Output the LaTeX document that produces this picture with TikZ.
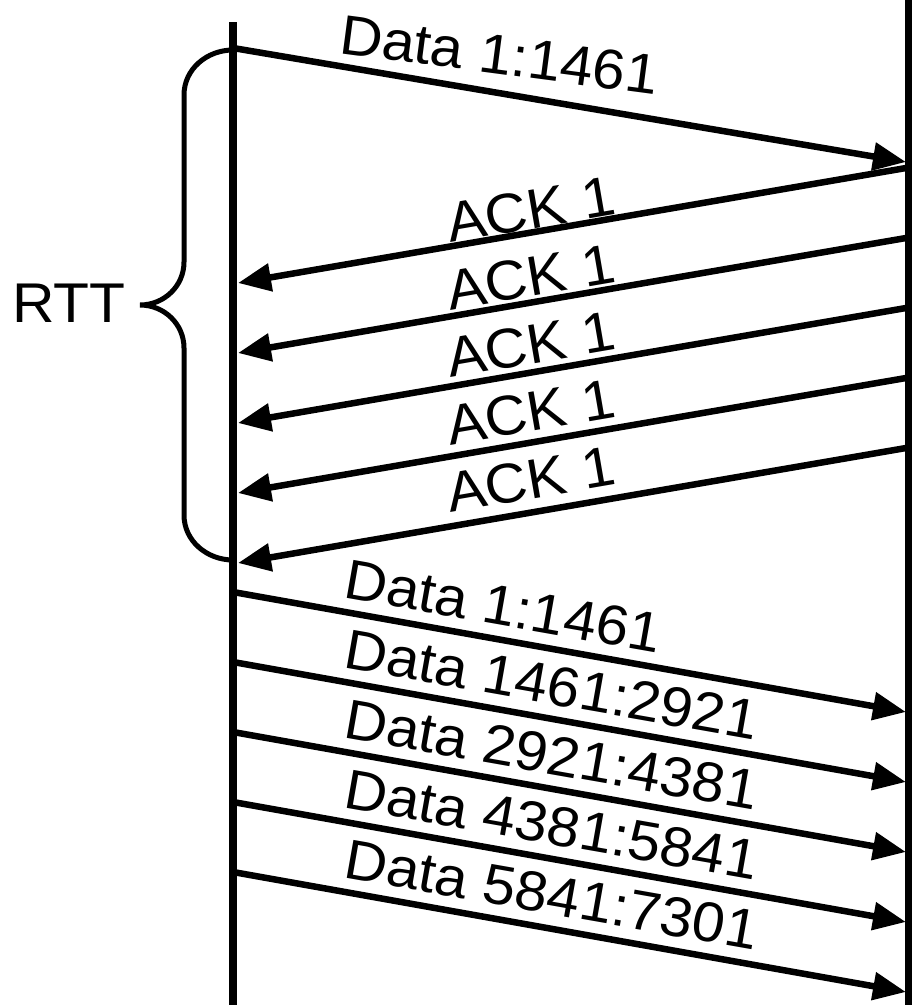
\documentclass[tikz,border=0pt]{standalone}
\usepackage{fontspec}
\setmainfont[FakeStretch=1.05]{Liberation Sans}
\usetikzlibrary{arrows.meta}
\begin{document}
\begin{tikzpicture}[x=1pt,y=-1pt,
  life/.style={line width=8pt},
  msg/.style={line width=6.5pt,-{Triangle[length=33pt,width=27pt]}},
  lbl/.style={font=\fontsize{56}{60}\selectfont, inner sep=0pt, anchor=base west},
  bracestyle/.style={line width=5pt, line cap=round}]
\useasboundingbox (0,0) rectangle (912,1005);
\fill[white] (0,0) rectangle (912,1005);
% lifelines
\coordinate (Ltop) at (233,22);
\coordinate (Lbot) at (233,1010);
\coordinate (Rtop) at (909,-5);
\coordinate (Rbot) at (909,1010);
\draw[life] (Ltop) -- (Lbot);
\draw[life] (Rtop) -- (Rbot);
% first data
\coordinate (d0s) at (233,48);
\coordinate (d0e) at (906,162);
\draw[msg] (d0s) -- (d0e);
\node[lbl, rotate=-7.5] (t0) at (338,53) {Data 1:1461};
% ACKs
\foreach \k [count=\i from 0] in {1,...,5}{
  \coordinate (a\k s) at (906,{168+70*\i});
  \coordinate (a\k e) at (238,{283+70*\i});
  \draw[msg] (a\k s) -- (a\k e);
  \node[lbl, rotate=9.8] (ta\k) at (450,{243+67.5*\i}) {ACK 1};
}
% data burst
\foreach \k/\txt [count=\i from 0] in {1/{Data 1:1461},2/{Data 1461:2921},3/{Data 2921:4381},4/{Data 4381:5841},5/{Data 5841:7301}}{
  \coordinate (b\k s) at (233,{592+70*\i});
  \coordinate (b\k e) at (906,{712+70*\i});
  \draw[msg] (b\k s) -- (b\k e);
  \node[lbl, rotate=-10] (tb\k) at (342,{597.5+70*\i}) {\txt};
}
% brace
\coordinate (brT) at (233,50);
\coordinate (brM) at (140,305);
\coordinate (brB) at (233,560);
\draw[bracestyle] (brT) to[out=180,in=90] (184,95) -- (184,262)
  to[out=-90,in=0] (brM) to[out=0,in=90] (184,348) -- (184,515)
  to[out=-90,in=180] (brB);
\node[lbl] (rtt) at (12,322) {RTT};
\end{tikzpicture}
\end{document}
